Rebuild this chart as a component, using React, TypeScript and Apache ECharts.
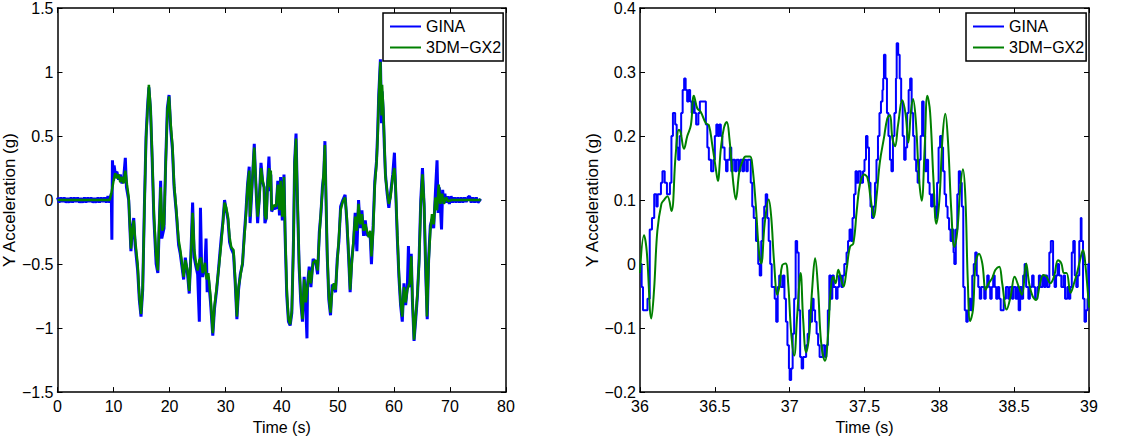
import React, { useEffect, useRef } from "react";
import * as echarts from "echarts";

type P = [number, number];

const SERIES_NAMES = ["GINA", "3DM\u2212GX2"];

// Left panel: full record, 0-80 s
const LEFT_X_TICKS = { min: 0, max: 80, interval: 10 };
const LEFT_Y_TICKS = { min: -1.5, max: 1.5, interval: 0.5 };

const LEFT_GINA: P[] = [
  [0, 0.02], [0.3, -0.02], [0.6, 0.02], [0.9, -0.015], [1.2, 0.02], [1.5, -0.02], [1.8, 0.015], [2.1, -0.02],
  [2.4, 0.02], [2.7, -0.02], [3.0, 0.02], [3.3, -0.015], [3.6, 0.02], [3.9, -0.02], [4.2, 0.015], [4.5, -0.02],
  [4.8, 0.02], [5.1, -0.02], [5.4, 0.02], [5.7, -0.015], [6.0, 0.02], [6.3, -0.02], [6.6, 0.015], [6.9, -0.02],
  [7.2, 0.02], [7.5, -0.02], [7.8, 0.02], [8.1, -0.015], [8.4, 0.02], [8.7, -0.02], [9.0, 0.03], [9.3, -0.02],
  [9.6, 0.05], [9.7, -0.31], [9.8, 0.31], [10.0, 0.15], [10.1, 0.27], [10.3, 0.21], [10.6, 0.22], [10.9, 0.16],
  [11.2, 0.2], [11.5, 0.13], [11.8, 0.17], [12.1, 0.33], [12.3, 0.1], [12.7, 0.0], [13.1, -0.4], [13.4, -0.2],
  [13.6, -0.14], [13.85, -0.35], [14.3, -0.55], [14.6, -0.78], [14.9, -0.91], [15.2, -0.7], [15.5, -0.05],
  [15.8, 0.5], [16.05, 0.72], [16.3, 0.88], [16.6, 0.7], [16.9, 0.3], [17.2, -0.15], [17.6, -0.5], [17.9, -0.57],
  [18.1, -0.28], [18.4, 0.15], [18.6, -0.3], [19.0, -0.22], [19.3, 0.3], [19.6, 0.72], [19.9, 0.82], [20.2, 0.55],
  [20.5, 0.4], [20.8, 0.1], [21.2, -0.1], [21.6, -0.35], [21.9, -0.42], [22.2, -0.52], [22.5, -0.62], [22.8, -0.45],
  [23.2, -0.58], [23.5, -0.73], [23.8, -0.42], [24.1, -0.02], [24.4, -0.45], [24.7, -0.52], [25.0, -0.58],
  [25.3, -0.95], [25.5, -0.06], [25.7, -0.5], [25.9, -0.6], [26.3, -0.52], [26.5, -0.3], [26.7, -0.72], [26.9, -0.6],
  [27.3, -0.8], [27.7, -1.06], [28.0, -0.85], [28.4, -0.7], [28.8, -0.5], [29.2, -0.3], [29.5, -0.17], [29.8, 0.0],
  [30.1, -0.08], [30.4, -0.15], [30.7, -0.33], [31.0, -0.38], [31.4, -0.42], [31.7, -0.65], [32.0, -0.93],
  [32.3, -0.7], [32.6, -0.58], [33.0, -0.5], [33.3, -0.28], [33.6, -0.1], [33.9, 0.12], [34.2, 0.26], [34.35, -0.18],
  [34.7, 0.1], [35.1, 0.44], [35.4, 0.1], [35.7, -0.18], [36.0, 0.02], [36.3, 0.29], [36.6, 0.14], [36.85, 0.1],
  [37.0, -0.18], [37.25, -0.14], [37.5, 0.16], [37.72, 0.34], [37.95, 0.07], [38.05, 0.2], [38.2, -0.09],
  [38.6, -0.05], [39.0, -0.07], [39.3, 0.15], [39.6, -0.12], [39.8, 0.18], [40.1, -0.16], [40.4, 0.2], [40.6, -0.28],
  [40.9, -0.75], [41.2, -0.95], [41.5, -0.98], [41.8, -0.88], [42.1, -0.3], [42.3, 0.3], [42.55, 0.52], [42.8, 0.0],
  [43.1, -0.52], [43.4, -0.8], [43.7, -0.95], [44.0, -0.6], [44.3, -0.85], [44.5, -1.08], [44.6, -0.66],
  [44.9, -0.52], [45.2, -0.68], [45.6, -0.46], [46.1, -0.5], [46.4, -0.58], [46.7, -0.25], [47.0, -0.1],
  [47.25, 0.1], [47.5, 0.2], [47.7, 0.46], [47.9, 0.0], [48.1, -0.42], [48.4, -0.78], [48.7, -0.9], [49.0, -0.66],
  [49.3, -0.68], [49.6, -0.72], [49.9, -0.46], [50.2, -0.32], [50.5, -0.05], [50.9, 0.0], [51.3, 0.04],
  [51.6, -0.16], [51.9, -0.42], [52.2, -0.72], [52.5, -0.46], [52.8, -0.34], [53.1, -0.1], [53.4, -0.4],
  [53.7, 0.0], [54.0, -0.22], [54.3, -0.08], [54.6, -0.28], [54.9, -0.16], [55.2, -0.28], [55.5, -0.26],
  [55.8, -0.3], [56.0, -0.5], [56.3, -0.2], [56.6, 0.15], [56.9, 0.3], [57.1, 0.52], [57.3, 0.82], [57.6, 1.1],
  [57.8, 0.6], [57.9, 0.85], [58.1, 0.7], [58.3, 0.42], [58.5, 0.2], [58.8, 0.05], [59.1, -0.06], [59.4, 0.05],
  [59.8, 0.2], [60.1, 0.37], [60.3, 0.1], [60.6, -0.28], [60.9, -0.6], [61.2, -0.82], [61.5, -0.95], [61.8, -0.65],
  [62.1, -0.82], [62.4, -0.68], [62.6, -0.36], [62.8, -0.68], [63.1, -0.42], [63.3, -0.78], [63.6, -1.1],
  [63.9, -0.93], [64.2, -0.75], [64.5, -0.46], [64.8, 0.0], [65.1, 0.25], [65.4, -0.05], [65.7, -0.6],
  [65.95, -0.93], [66.2, -0.46], [66.5, -0.2], [66.8, -0.15], [67.1, -0.22], [67.4, 0.05], [67.7, 0.31],
  [67.9, -0.1], [68.1, 0.1], [68.3, -0.05], [68.5, -0.23], [68.7, 0.08], [68.9, -0.03], [69.1, 0.05], [69.3, -0.02],
  [69.6, 0.03], [69.9, -0.03], [70.2, 0.03], [70.5, -0.02], [70.8, 0.02], [71.1, -0.02], [71.4, 0.02], [71.7, -0.02],
  [72.0, 0.02], [72.3, -0.02], [72.6, 0.02], [72.9, -0.015], [73.2, 0.02], [73.5, 0.03], [73.8, -0.02], [74.1, 0.02],
  [74.4, -0.02], [74.7, 0.02], [75.0, -0.02], [75.5, 0.01],
];

const LEFT_3DM: P[] = [
  [0, 0], [9.3, 0], [9.6, 0.05], [10.0, 0.15], [10.3, 0.21], [10.6, 0.17], [10.9, 0.2], [11.2, 0.14], [11.5, 0.18],
  [11.8, 0.13], [12.1, 0.23], [12.4, 0.12], [12.7, 0.02], [13.1, -0.38], [13.4, -0.22], [13.6, -0.16], [13.85, -0.31],
  [14.3, -0.5], [14.6, -0.75], [14.9, -0.89], [15.2, -0.68], [15.5, -0.08], [15.8, 0.48], [16.05, 0.69], [16.3, 0.9],
  [16.6, 0.72], [16.9, 0.33], [17.2, -0.11], [17.6, -0.44], [17.9, -0.55], [18.1, -0.24], [18.4, 0.1], [18.7, -0.24],
  [19.0, -0.19], [19.3, 0.28], [19.6, 0.69], [19.9, 0.81], [20.2, 0.59], [20.5, 0.43], [20.8, 0.12], [21.2, -0.08],
  [21.6, -0.31], [21.9, -0.39], [22.2, -0.49], [22.5, -0.6], [22.8, -0.47], [23.2, -0.55], [23.5, -0.71], [23.8, -0.44],
  [24.1, -0.1], [24.4, -0.39], [24.7, -0.49], [25.0, -0.55], [25.3, -0.47], [25.6, -0.45], [25.9, -0.57], [26.3, -0.49],
  [26.6, -0.62], [26.9, -0.57], [27.3, -0.75], [27.7, -1.04], [28.0, -0.83], [28.4, -0.68], [28.8, -0.52], [29.2, -0.34],
  [29.5, -0.19], [29.8, -0.02], [30.1, -0.06], [30.4, -0.13], [30.7, -0.29], [31.0, -0.37], [31.4, -0.39], [31.7, -0.62],
  [32.0, -0.91], [32.3, -0.68], [32.6, -0.6], [33.0, -0.49], [33.3, -0.31], [33.6, -0.13], [33.9, 0.1], [34.2, 0.23],
  [34.35, -0.13], [34.7, 0.12], [35.1, 0.41], [35.4, 0.12], [35.7, -0.13], [36.0, 0.0], [36.3, 0.25], [36.6, 0.15],
  [36.85, 0.1], [37.0, -0.12], [37.25, -0.15], [37.5, 0.14], [37.75, 0.25], [37.95, 0.1], [38.05, 0.23], [38.2, -0.08],
  [38.6, -0.04], [39.0, -0.05], [39.3, 0.12], [39.6, -0.08], [39.8, 0.15], [40.1, -0.13], [40.4, 0.18], [40.6, -0.24],
  [40.9, -0.7], [41.2, -0.93], [41.5, -0.97], [41.8, -0.86], [42.1, -0.34], [42.3, 0.28], [42.55, 0.48], [42.8, 0.02],
  [43.1, -0.49], [43.4, -0.75], [43.7, -0.93], [44.0, -0.62], [44.3, -0.8], [44.6, -0.68], [44.9, -0.55], [45.2, -0.65],
  [45.6, -0.49], [46.1, -0.47], [46.4, -0.55], [46.7, -0.29], [47.0, -0.08], [47.25, 0.07], [47.5, 0.23], [47.7, 0.43],
  [47.9, 0.02], [48.1, -0.39], [48.4, -0.75], [48.7, -0.88], [49.0, -0.7], [49.3, -0.65], [49.6, -0.7], [49.9, -0.49],
  [50.2, -0.29], [50.5, -0.08], [50.9, -0.01], [51.3, 0.02], [51.6, -0.13], [51.9, -0.39], [52.2, -0.7], [52.5, -0.49],
  [52.8, -0.31], [53.1, -0.13], [53.4, -0.24], [53.7, -0.03], [54.0, -0.19], [54.3, -0.11], [54.6, -0.24], [54.9, -0.19],
  [55.2, -0.24], [55.5, -0.29], [55.8, -0.24], [56.0, -0.44], [56.3, -0.24], [56.6, 0.12], [56.9, 0.28], [57.1, 0.48],
  [57.3, 0.79], [57.6, 1.08], [57.8, 0.66], [57.9, 0.9], [58.1, 0.72], [58.3, 0.46], [58.5, 0.18], [58.8, 0.07],
  [59.1, -0.03], [59.4, 0.02], [59.8, 0.18], [60.1, 0.25], [60.3, 0.12], [60.6, -0.24], [60.9, -0.57], [61.2, -0.8],
  [61.5, -0.91], [61.8, -0.68], [62.1, -0.8], [62.4, -0.7], [62.8, -0.65], [63.1, -0.44], [63.3, -0.75], [63.6, -1.09],
  [63.9, -0.91], [64.2, -0.73], [64.5, -0.49], [64.8, -0.03], [65.1, 0.2], [65.4, -0.03], [65.7, -0.55], [65.9, -0.91],
  [66.2, -0.49], [66.5, -0.24], [66.8, -0.11], [67.1, -0.19], [67.4, 0.02], [67.7, -0.08], [68.0, 0.12], [68.3, -0.03],
  [68.6, 0.05], [68.9, -0.03], [69.3, 0.02], [69.7, -0.01], [70.2, 0], [75.5, 0],
];

// Right panel: zoom 36-39 s
const RIGHT_X_TICKS = { min: 36, max: 39, interval: 0.5 };
const RIGHT_Y_TICKS = { min: -0.2, max: 0.4, interval: 0.1 };

const RIGHT_GINA: P[] = [
  [36.0, 0.0], [36.011, -0.036], [36.02, -0.072], [36.05, -0.054], [36.065, 0.054], [36.08, 0.072], [36.095, 0.109],
  [36.11, 0.09], [36.118, 0.109], [36.14, 0.127], [36.15, 0.145], [36.165, 0.127], [36.18, 0.109], [36.2, 0.127],
  [36.21, 0.2], [36.22, 0.236], [36.235, 0.218], [36.245, 0.182], [36.255, 0.163], [36.265, 0.2], [36.275, 0.236],
  [36.285, 0.272], [36.295, 0.29], [36.305, 0.272], [36.315, 0.254], [36.325, 0.272], [36.335, 0.254],
  [36.345, 0.236], [36.355, 0.254], [36.365, 0.236], [36.375, 0.218], [36.39, 0.236], [36.4, 0.254], [36.44, 0.218],
  [36.45, 0.182], [36.46, 0.163], [36.475, 0.145], [36.49, 0.163], [36.5, 0.2], [36.51, 0.218], [36.52, 0.2],
  [36.53, 0.218], [36.54, 0.2], [36.55, 0.182], [36.565, 0.163], [36.575, 0.145], [36.585, 0.163], [36.6, 0.182],
  [36.61, 0.145], [36.62, 0.163], [36.635, 0.145], [36.645, 0.163], [36.66, 0.145], [36.67, 0.163], [36.685, 0.145],
  [36.695, 0.163], [36.71, 0.145], [36.72, 0.163], [36.74, 0.127], [36.75, 0.09], [36.76, 0.072], [36.775, 0.036],
  [36.79, 0.0], [36.8, -0.018], [36.81, 0.036], [36.82, 0.072], [36.83, 0.09], [36.84, 0.109], [36.85, 0.072],
  [36.86, 0.036], [36.87, 0.0], [36.88, -0.036], [36.9, -0.054], [36.91, -0.09], [36.92, -0.036], [36.93, -0.018],
  [36.94, -0.036], [36.955, -0.018], [36.965, -0.054], [36.975, -0.09], [36.985, -0.127], [36.995, -0.163],
  [37.0, -0.181], [37.01, -0.163], [37.02, -0.109], [37.03, -0.054], [37.04, 0.036], [37.05, 0.018], [37.06, -0.072],
  [37.07, -0.145], [37.08, -0.163], [37.09, -0.145], [37.11, -0.127], [37.12, -0.109], [37.13, -0.072], [37.14, -0.09],
  [37.15, -0.054], [37.16, -0.072], [37.17, -0.09], [37.18, -0.109], [37.19, -0.127], [37.2, -0.145], [37.22, -0.127],
  [37.235, -0.145], [37.245, -0.127], [37.255, -0.072], [37.265, -0.018], [37.275, -0.054], [37.285, -0.018],
  [37.295, -0.036], [37.31, -0.054], [37.32, -0.036], [37.33, -0.018], [37.345, -0.036], [37.355, -0.018],
  [37.365, 0.0], [37.38, 0.018], [37.39, 0.036], [37.4, 0.054], [37.41, 0.036], [37.42, 0.072], [37.43, 0.109],
  [37.44, 0.145], [37.45, 0.127], [37.46, 0.145], [37.475, 0.127], [37.49, 0.145], [37.5, 0.163], [37.51, 0.2],
  [37.52, 0.182], [37.53, 0.127], [37.54, 0.09], [37.55, 0.072], [37.56, 0.09], [37.57, 0.127], [37.58, 0.163],
  [37.59, 0.2], [37.6, 0.236], [37.61, 0.254], [37.62, 0.272], [37.625, 0.29], [37.63, 0.327], [37.64, 0.29],
  [37.65, 0.236], [37.66, 0.2], [37.67, 0.163], [37.68, 0.145], [37.69, 0.2], [37.7, 0.236], [37.71, 0.29],
  [37.715, 0.345], [37.725, 0.327], [37.735, 0.29], [37.745, 0.254], [37.755, 0.2], [37.765, 0.163], [37.775, 0.182],
  [37.785, 0.236], [37.795, 0.272], [37.805, 0.29], [37.815, 0.236], [37.825, 0.2], [37.835, 0.163], [37.845, 0.145],
  [37.855, 0.127], [37.865, 0.163], [37.875, 0.2], [37.885, 0.254], [37.895, 0.2], [37.905, 0.145], [37.915, 0.163],
  [37.925, 0.127], [37.935, 0.109], [37.945, 0.09], [37.955, 0.109], [37.965, 0.09], [37.975, 0.072], [37.985, 0.127],
  [37.995, 0.182], [38.005, 0.2], [38.015, 0.182], [38.025, 0.145], [38.035, 0.109], [38.045, 0.09], [38.055, 0.072],
  [38.065, 0.054], [38.075, 0.036], [38.085, 0.054], [38.095, 0.018], [38.1, 0.0], [38.11, 0.054], [38.12, 0.109],
  [38.13, 0.145], [38.14, 0.127], [38.15, 0.09], [38.16, -0.036], [38.17, -0.072], [38.18, -0.09], [38.19, -0.072],
  [38.2, -0.054], [38.21, -0.072], [38.22, -0.018], [38.23, 0.0], [38.24, 0.018], [38.25, -0.018], [38.26, -0.036],
  [38.27, -0.054], [38.28, -0.036], [38.3, -0.054], [38.31, -0.036], [38.32, -0.018], [38.33, -0.036], [38.34, -0.054],
  [38.35, -0.036], [38.36, -0.018], [38.37, -0.036], [38.38, -0.054], [38.39, -0.036], [38.4, -0.054], [38.41, -0.072],
  [38.43, -0.054], [38.445, -0.036], [38.46, -0.054], [38.47, -0.036], [38.485, -0.054], [38.495, -0.036],
  [38.51, -0.054], [38.52, -0.036], [38.53, -0.072], [38.54, -0.036], [38.55, -0.054], [38.56, -0.018], [38.57, 0.0],
  [38.58, -0.036], [38.595, -0.054], [38.605, -0.036], [38.62, -0.018], [38.63, -0.036], [38.64, -0.054],
  [38.655, -0.036], [38.665, -0.018], [38.675, -0.036], [38.69, -0.018], [38.7, -0.036], [38.71, -0.018],
  [38.72, -0.036], [38.735, 0.018], [38.745, 0.036], [38.76, -0.018], [38.77, -0.036], [38.78, -0.018], [38.79, 0.0],
  [38.8, -0.018], [38.815, -0.036], [38.83, -0.018], [38.84, -0.054], [38.855, -0.036], [38.865, -0.054],
  [38.875, -0.036], [38.885, 0.018], [38.895, 0.036], [38.905, -0.018], [38.915, -0.036], [38.925, -0.018],
  [38.935, 0.036], [38.945, 0.072], [38.95, 0.036], [38.96, -0.054], [38.97, -0.09], [38.98, -0.072], [38.99, -0.054],
  [38.995, 0.0], [39.0, -0.054],
];

const RIGHT_3DM: P[] = [
  [36.0, -0.014], [36.027, 0.045], [36.045, 0.02], [36.076, -0.085], [36.094, -0.04], [36.116, 0.052], [36.143, 0.094],
  [36.16, 0.1], [36.183, 0.106], [36.21, 0.083], [36.238, 0.17], [36.26, 0.21], [36.27, 0.207], [36.294, 0.18],
  [36.316, 0.2], [36.34, 0.217], [36.36, 0.263], [36.383, 0.243], [36.405, 0.238], [36.44, 0.22], [36.46, 0.217],
  [36.483, 0.186], [36.506, 0.15], [36.52, 0.13], [36.54, 0.18], [36.56, 0.212], [36.58, 0.222], [36.597, 0.197],
  [36.624, 0.125], [36.64, 0.101], [36.664, 0.145], [36.684, 0.16], [36.706, 0.168], [36.735, 0.168], [36.75, 0.155],
  [36.773, 0.094], [36.795, 0.019], [36.81, 0.001], [36.833, 0.063], [36.86, 0.101], [36.877, 0.073], [36.895, 0.006],
  [36.918, -0.048], [36.935, -0.03], [36.95, -0.002], [36.973, 0.001], [36.99, -0.03], [37.01, -0.107], [37.03, -0.143],
  [37.05, -0.081], [37.073, -0.014], [37.09, -0.086], [37.11, -0.138], [37.13, -0.112], [37.15, -0.04], [37.17, 0.009],
  [37.19, -0.04], [37.21, -0.122], [37.236, -0.151], [37.256, -0.112], [37.274, -0.04], [37.29, -0.02], [37.307, -0.03],
  [37.325, -0.009], [37.34, -0.02], [37.36, -0.035], [37.38, -0.009], [37.403, 0.027], [37.425, 0.032], [37.448, 0.083],
  [37.47, 0.125], [37.497, 0.14], [37.52, 0.135], [37.54, 0.104], [37.563, 0.073], [37.58, 0.104], [37.603, 0.16],
  [37.63, 0.197], [37.652, 0.227], [37.67, 0.233], [37.686, 0.197], [37.704, 0.184], [37.724, 0.217], [37.753, 0.256],
  [37.775, 0.233], [37.793, 0.19], [37.81, 0.238], [37.824, 0.258], [37.842, 0.227], [37.864, 0.135], [37.882, 0.099],
  [37.902, 0.181], [37.92, 0.263], [37.938, 0.238], [37.96, 0.135], [37.98, 0.063], [38.0, 0.099], [38.022, 0.2],
  [38.04, 0.235], [38.058, 0.191], [38.08, 0.083], [38.1, 0.027], [38.12, 0.052], [38.14, 0.119], [38.158, 0.148],
  [38.174, 0.104], [38.19, -0.025], [38.206, -0.089], [38.225, -0.071], [38.242, 0.001], [38.265, 0.016],
  [38.287, 0.001], [38.31, -0.04], [38.33, -0.03], [38.353, -0.022], [38.375, -0.009], [38.4, -0.004], [38.42, -0.03],
  [38.45, -0.071], [38.477, -0.05], [38.503, -0.02], [38.53, -0.035], [38.552, -0.048], [38.58, 0.001], [38.6, -0.03],
  [38.623, -0.05], [38.646, -0.056], [38.673, -0.03], [38.695, -0.017], [38.717, -0.02], [38.74, -0.03], [38.766, -0.02],
  [38.793, 0.006], [38.815, 0.001], [38.833, -0.014], [38.85, -0.014], [38.877, -0.045], [38.9, -0.03], [38.92, -0.014],
  [38.94, 0.006], [38.96, 0.022], [38.975, 0.001], [39.0, -0.068],
];

const BLUE = "#0000ff";
const GREEN = "#008000";
const FONT = "Liberation Sans, Arial, Helvetica, sans-serif";

const fmt = (v: number) => {
  const r = Math.round(v * 1000) / 1000;
  return String(r).replace("-", "\u2212");
};

function axesFor(grid: number, xt: any, yt: any) {
  const line = { show: true, onZero: false, lineStyle: { color: "#000", width: 1.5 } };
  const tick = { show: true, inside: true, length: 5, lineStyle: { color: "#000", width: 1 } };
  const label = { color: "#000", fontSize: 16, fontFamily: FONT };
  const xAxes = [
    {
      gridIndex: grid, type: "value", position: "bottom", ...xt,
      axisLine: line, axisTick: tick, splitLine: { show: false },
      axisLabel: { ...label, margin: 6, formatter: fmt, showMinLabel: true, showMaxLabel: true },
      name: "Time (s)", nameLocation: "middle", nameGap: 23,
      nameTextStyle: { color: "#000", fontSize: 16, fontFamily: FONT },
    },
    {
      gridIndex: grid, type: "value", position: "top", ...xt,
      axisLine: line, axisTick: tick, splitLine: { show: false }, axisLabel: { show: false },
    },
  ];
  const yAxes = [
    {
      gridIndex: grid, type: "value", position: "left", ...yt,
      axisLine: line, axisTick: tick, splitLine: { show: false },
      axisLabel: { ...label, margin: 4, formatter: fmt, showMinLabel: true, showMaxLabel: true },
      name: "Y Acceleration (g)", nameLocation: "middle", nameGap: 38,
      nameTextStyle: { color: "#000", fontSize: 17, fontFamily: FONT },
    },
    {
      gridIndex: grid, type: "value", position: "right", ...yt,
      axisLine: line, axisTick: tick, splitLine: { show: false }, axisLabel: { show: false },
    },
  ];
  return { xAxes, yAxes };
}

function legendAt(left: number) {
  return {
    left, top: 13, orient: "vertical", data: SERIES_NAMES,
    icon: "rect", itemWidth: 31, itemHeight: 2, itemGap: 0,
    padding: [3, 2, 3, 7],
    borderColor: "#000", borderWidth: 1.5, borderRadius: 0, backgroundColor: "#fff",
    textStyle: { color: "#000", fontSize: 16, fontFamily: FONT, lineHeight: 21 },
    selectedMode: false,
  };
}

export default function App() {
  const ref = useRef<HTMLDivElement>(null);
  useEffect(() => {
    if (!ref.current) return;
    const chart = echarts.init(ref.current, undefined, { renderer: "svg" });
    const a = axesFor(0, LEFT_X_TICKS, LEFT_Y_TICKS);
    const b = axesFor(1, RIGHT_X_TICKS, RIGHT_Y_TICKS);
    chart.setOption({
      animation: false,
      backgroundColor: "#fff",
      grid: [
        { left: 57, top: 8, width: 449, height: 389 },
        { left: 640, top: 8, width: 449, height: 389 },
      ],
      xAxis: [...a.xAxes, ...b.xAxes],
      yAxis: [...a.yAxes, ...b.yAxes],
      legend: [legendAt(383), legendAt(966)],
      series: [
        {
          name: SERIES_NAMES[0], type: "line", xAxisIndex: 0, yAxisIndex: 0, data: LEFT_GINA,
          symbol: "none", lineStyle: { color: BLUE, width: 3 }, itemStyle: { color: BLUE }, z: 2,
        },
        {
          name: SERIES_NAMES[1], type: "line", xAxisIndex: 0, yAxisIndex: 0, data: LEFT_3DM,
          symbol: "none", lineStyle: { color: GREEN, width: 2.5 }, itemStyle: { color: GREEN }, z: 3,
        },
        {
          name: SERIES_NAMES[0], type: "line", xAxisIndex: 2, yAxisIndex: 2, data: RIGHT_GINA, step: "end",
          symbol: "none", lineStyle: { color: BLUE, width: 2 }, itemStyle: { color: BLUE }, z: 2,
        },
        {
          name: SERIES_NAMES[1], type: "line", xAxisIndex: 2, yAxisIndex: 2, data: RIGHT_3DM, smooth: 0.4,
          symbol: "none", lineStyle: { color: GREEN, width: 2 }, itemStyle: { color: GREEN }, z: 3,
        },
      ],
    });
    return () => chart.dispose();
  }, []);
  return (
    <div
      ref={ref}
      style={{ position: "fixed", left: 0, top: 0, width: 1148, height: 440, background: "#fff" }}
    />
  );
}
